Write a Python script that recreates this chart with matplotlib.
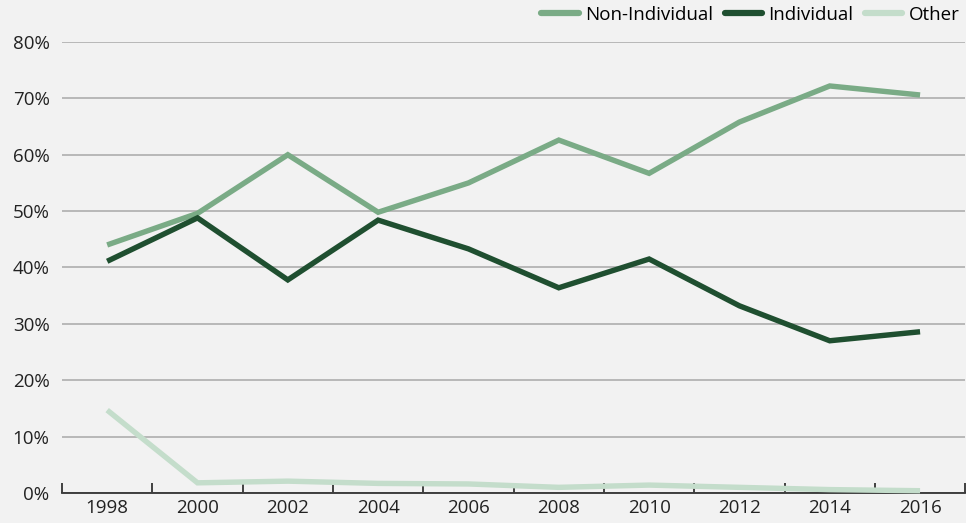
import numpy as np
import matplotlib.pyplot as plt

# Data (percent)
years = ["1998", "2000", "2002", "2004", "2006", "2008", "2010", "2012", "2014", "2016"]
non_individual = [44.0, 49.6, 60.0, 49.8, 55.0, 62.6, 56.7, 65.8, 72.2, 70.6]
individual = [41.1, 48.8, 37.8, 48.4, 43.3, 36.4, 41.5, 33.2, 27.0, 28.6]
other = [14.7, 1.8, 2.1, 1.7, 1.6, 1.0, 1.4, 1.0, 0.6, 0.4]

yticks = [0, 10, 20, 30, 40, 50, 60, 70, 80]

BG = "#f2f2f2"
plt.rcParams["font.family"] = ["Open Sans", "DejaVu Sans"]

fig = plt.figure(figsize=(9.66, 5.23), dpi=100, facecolor=BG)
ax = fig.add_axes([0.0642, 0.0574, 0.935, 0.8623], facecolor=BG)

x = np.arange(len(years))
series = [
    ("Non-Individual", non_individual, "#7aab86"),
    ("Individual", individual, "#1f4f30"),
    ("Other", other, "#c4ddcb"),
]
for name, vals, col in series:
    ax.plot(x, vals, color=col, lw=3.9, label=name, solid_capstyle="butt",
            solid_joinstyle="miter", clip_on=False, zorder=3)

ax.set_xlim(-0.5, len(years) - 0.5)
ax.set_ylim(0, 80)

ax.set_yticks(yticks)
ax.set_yticklabels([f"{v}%" for v in yticks])
ax.yaxis.grid(True, color="#b3b3b3", lw=1.3)
ax.set_axisbelow(True)

# category labels centred, tick marks on the boundaries
ax.set_xticks(x)
ax.set_xticklabels(years)
ax.set_xticks(np.arange(-0.5, len(years)), minor=True)
ax.tick_params(axis="x", which="major", length=0, pad=4, labelsize=13.5, colors="#222222")
ax.tick_params(axis="x", which="minor", direction="in", length=7, width=1.3, color="#333333")
ax.tick_params(axis="y", length=0, pad=9, labelsize=13.5, labelcolor="#222222")

for s in ["top", "right", "left"]:
    ax.spines[s].set_visible(False)
ax.spines["bottom"].set_color("#333333")
ax.spines["bottom"].set_linewidth(1.3)

leg = ax.legend(loc="center right", bbox_to_anchor=(0.994, 1.06), ncol=3, frameon=False,
                fontsize=13.5, handlelength=2.0, handletextpad=0.35, columnspacing=0.6,
                borderaxespad=0.0, borderpad=0.0)
for line in leg.get_lines():
    line.set_linewidth(4.5)
    line.set_solid_capstyle("round")

fig.savefig("out.png", dpi=100, facecolor=BG)
